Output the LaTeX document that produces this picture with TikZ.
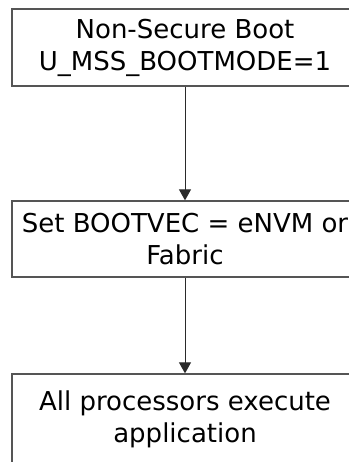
\documentclass[tikz,border=0pt]{standalone}
\usepackage{fontspec}
\setmainfont{DejaVu Sans}
\usetikzlibrary{arrows.meta}
\definecolor{edgegray}{HTML}{555555}
\definecolor{linegray}{HTML}{2A2A2A}
\tikzset{
  stepbox/.style={draw=edgegray, line width=1.3pt, fill=white, rectangle,
    minimum width=346pt, inner sep=0pt, align=center,
    font=\fontsize{26}{32}\selectfont},
  flow/.style={draw=linegray, line width=1pt,
    -{Triangle[width=12pt,length=11pt]}},
}
\begin{document}
\begin{tikzpicture}
  \useasboundingbox (0pt,0pt) rectangle (348pt,-462pt);
  \node[stepbox, minimum height=77pt] (boot) at (185pt,-47.5pt)
    {Non-Secure Boot\\U\_MSS\_BOOTMODE=1};
  \node[stepbox, minimum height=76pt] (vec) at (185pt,-239pt)
    {Set BOOTVEC = eNVM or\\Fabric};
  \node[stepbox, minimum height=90pt] (run) at (185pt,-419pt)
    {All processors execute\\application};
  \draw[flow] (boot.south) -- (vec.north);
  \draw[flow] (vec.south) -- (run.north);
\end{tikzpicture}
\end{document}
